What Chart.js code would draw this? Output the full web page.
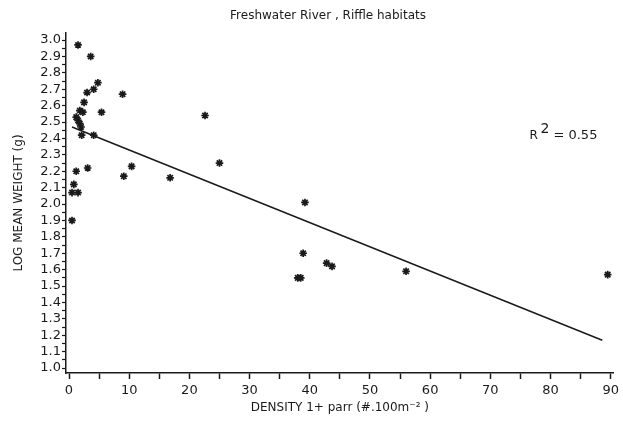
<!DOCTYPE html>
<html>
<head>
<meta charset="utf-8">
<script src="https://cdn.jsdelivr.net/npm/chart.js@4"></script>
<style>
  html, body { margin: 0; padding: 0; background: #fff; }
  #wrap { width: 623px; height: 437px; }
</style>
</head>
<body>
<div id="wrap"><canvas id="chart" width="623" height="437"></canvas></div>
<script>
const chartTitle = 'Freshwater River , Riffle habitats';
const xTitle = 'DENSITY 1+ parr (#.100m\u207B\u00B2 )';
const yTitle = 'LOG MEAN WEIGHT (g)';

// density of 1+ parr per site
const densities = [1.5, 3.6, 4.8, 4.1, 3.0, 2.5, 1.8, 2.3, 1.2, 1.5, 1.8, 2.0, 2.1, 4.1, 5.4, 8.9,
  9.1, 10.4, 3.1, 1.2, 0.8, 0.5, 1.5, 0.5, 16.8, 22.6, 25.0, 39.2, 38.9, 38.5, 38.0, 42.8, 43.7, 56.0, 89.5];
// log mean weight (g)
const logWeights = [2.97, 2.90, 2.74, 2.70, 2.68, 2.62, 2.57, 2.56, 2.53, 2.51, 2.49, 2.47, 2.42, 2.42, 2.56, 2.67,
  2.17, 2.23, 2.22, 2.20, 2.12, 2.07, 2.07, 1.90, 2.16, 2.54, 2.25, 2.01, 1.70, 1.55, 1.55, 1.64, 1.62, 1.59, 1.57];

// fitted line end points
const fitX = [0.5, 88.6];
const fitY = [2.47, 1.17];
const rSquared = '0.55';

const xTicks = [0, 5, 10, 15, 20, 25, 30, 35, 40, 45, 50, 55, 60, 65, 70, 75, 80, 85, 90];
const yTicks = [1.0, 1.05, 1.1, 1.15, 1.2, 1.25, 1.3, 1.35, 1.4, 1.45, 1.5, 1.55, 1.6, 1.65, 1.7, 1.75,
  1.8, 1.85, 1.9, 1.95, 2.0, 2.05, 2.1, 2.15, 2.2, 2.25, 2.3, 2.35, 2.4, 2.45, 2.5, 2.55, 2.6, 2.65,
  2.7, 2.75, 2.8, 2.85, 2.9, 2.95, 3.0];

const ink = '#1a1a1a';
const fontFam = '"DejaVu Sans", sans-serif';

const isMajor = (v, step) => Math.abs(v / step - Math.round(v / step)) < 1e-6;

const textPlugin = {
  id: 'texts',
  afterDraw(chart) {
    const ctx = chart.ctx;
    const xs = chart.scales.x, ys = chart.scales.y;
    ctx.save();
    ctx.fillStyle = ink;
    ctx.textBaseline = 'middle';
    ctx.textAlign = 'center';
    ctx.font = '12px ' + fontFam;
    ctx.fillText(chartTitle, 328, 16);

    // R^2 note
    const rx = xs.getPixelForValue(76.5);
    const ry = ys.getPixelForValue(2.415);
    ctx.textAlign = 'left';
    ctx.font = '12px ' + fontFam;
    ctx.fillText('R', rx, ry);
    ctx.font = '14px ' + fontFam;
    ctx.fillText('2', rx + 11, ry - 7);
    ctx.font = '13px ' + fontFam;
    ctx.fillText('= ' + rSquared, rx + 24, ry);
    ctx.restore();
  }
};

new Chart(document.getElementById('chart'), {
  type: 'scatter',
  data: {
    datasets: [
      {
        label: 'sites',
        data: densities.map((d, i) => ({ x: d, y: logWeights[i] })),
        pointStyle: 'star',
        radius: 3.8,
        borderColor: ink,
        backgroundColor: ink,
        borderWidth: 1.7,
        showLine: false
      },
      {
        label: 'fit',
        data: fitX.map((d, i) => ({ x: d, y: fitY[i] })),
        showLine: true,
        borderColor: ink,
        borderWidth: 1.5,
        pointRadius: 0,
        fill: false
      }
    ]
  },
  options: {
    responsive: false,
    animation: false,
    layout: { padding: { top: 33, right: 5, bottom: 0, left: 0 } },
    plugins: {
      legend: { display: false },
      tooltip: { enabled: false }
    },
    scales: {
      x: {
        type: 'linear',
        min: -0.5,
        max: 90.5,
        afterFit: s => { s.height = 64; },
        afterBuildTicks: s => { s.ticks = xTicks.map(v => ({ value: v })); },
        border: { display: true, color: ink, width: 1.5 },
        grid: { drawOnChartArea: false, drawTicks: true, tickLength: 6, tickColor: ink, tickWidth: 1.5 },
        ticks: {
          color: ink,
          padding: 4,
          maxRotation: 0,
          autoSkip: false,
          font: { family: fontFam, size: 13 },
          callback: v => isMajor(v, 10) ? String(v) : ''
        },
        title: {
          display: true,
          text: xTitle,
          color: ink,
          font: { family: fontFam, size: 12 },
          padding: { top: 4, bottom: 22 }
        }
      },
      y: {
        type: 'linear',
        min: 0.97,
        max: 3.043,
        afterFit: s => { s.width = 66; },
        afterBuildTicks: s => { s.ticks = yTicks.map(v => ({ value: v })); },
        border: { display: true, color: ink, width: 1.5 },
        grid: { drawOnChartArea: false, drawTicks: true, tickLength: 4, tickColor: ink, tickWidth: 1.2 },
        ticks: {
          color: ink,
          padding: 1,
          autoSkip: false,
          font: { family: fontFam, size: 13 },
          callback: v => isMajor(v, 0.1) ? v.toFixed(1) : ''
        },
        title: {
          display: true,
          text: yTitle,
          color: ink,
          font: { family: fontFam, size: 12 },
          padding: { top: 12, bottom: 0 }
        }
      }
    }
  },
  plugins: [textPlugin]
});
</script>
</body>
</html>
